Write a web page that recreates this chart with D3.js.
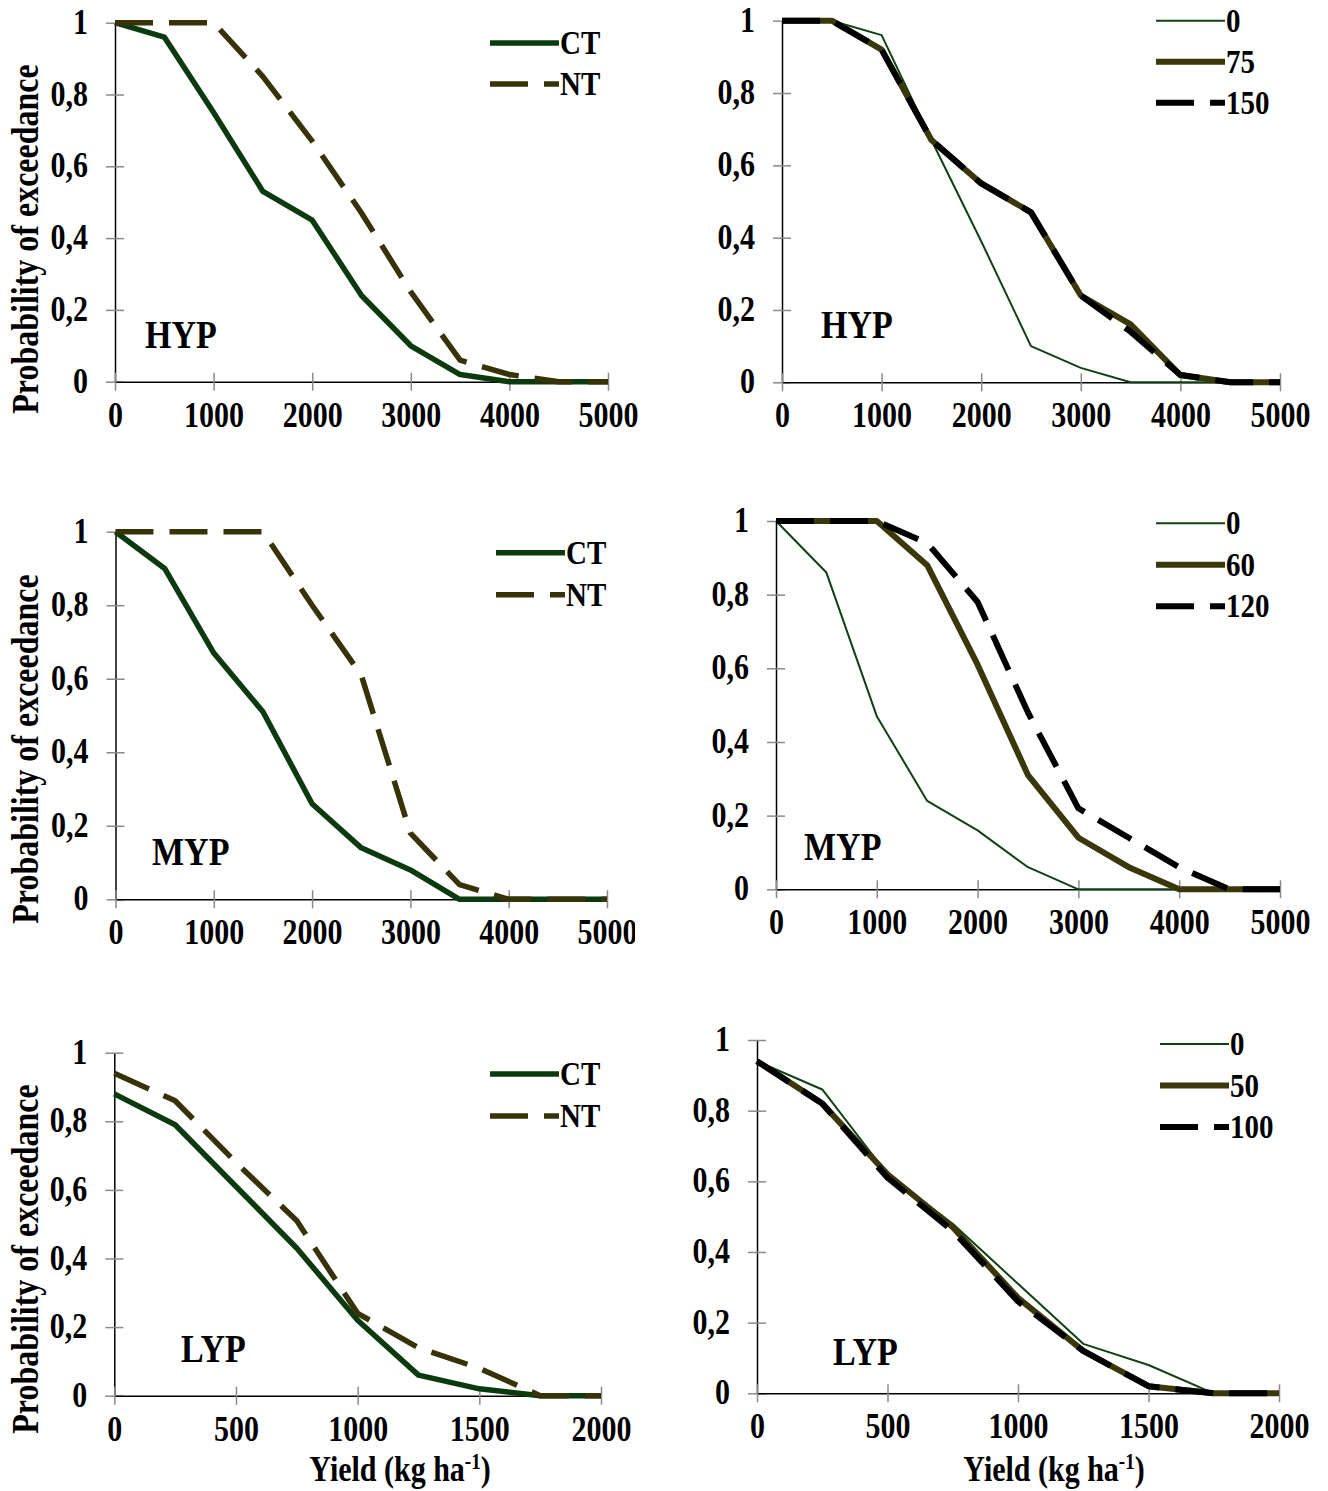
<!DOCTYPE html>
<html>
<head>
<meta charset="utf-8">
<script src="https://cdn.jsdelivr.net/npm/d3@7"></script>
<style>
  body { margin: 0; background: #fff; }
  svg { display: block; }
  text { font-family: "Liberation Serif", "Times New Roman", serif; font-weight: bold; fill: #000; }
</style>
</head>
<body>
<svg id="chart" width="1328" height="1491"></svg>
<script>
// yield levels (kg/ha) where the exceedance probability was read
const yieldsHigh = [0, 500, 1000, 1500, 2000, 2500, 3000, 3500, 4000, 4500, 5000];
const yieldsLow = [0, 250, 500, 750, 1000, 1250, 1500, 1750, 2000];
const ticksHigh = [0, 1000, 2000, 3000, 4000, 5000];
const ticksLow = [0, 500, 1000, 1500, 2000];
const probTicks = [0, 0.2, 0.4, 0.6, 0.8, 1];

// HYP
const hypCT = [1, 0.96, 0.75, 0.53, 0.45, 0.24, 0.10, 0.02, 0, 0, 0];
const hypNT = [1, 1, 1, 0.85, 0.67, 0.47, 0.25, 0.06, 0.02, 0, 0];
const hypN0 = [1, 1, 0.96, 0.67, 0.39, 0.10, 0.04, 0, 0, 0, 0];
const hypN75 = [1, 1, 0.92, 0.67, 0.55, 0.47, 0.24, 0.16, 0.02, 0, 0];
const hypN150 = [1, 1, 0.92, 0.67, 0.55, 0.47, 0.24, 0.14, 0.02, 0, 0];

// MYP
const mypCT = [1, 0.90, 0.67, 0.51, 0.26, 0.14, 0.08, 0, 0, 0, 0];
const mypNT = [1, 1, 1, 1, 0.80, 0.61, 0.18, 0.04, 0, 0, 0];
const mypN0 = [1, 0.86, 0.47, 0.24, 0.16, 0.06, 0, 0, 0, 0, 0];
const mypN60 = [1, 1, 1, 0.88, 0.61, 0.31, 0.14, 0.06, 0, 0, 0];
const mypN120 = [1, 1, 1, 0.94, 0.78, 0.48, 0.22, 0.14, 0.06, 0, 0];

// LYP
const lypCT = [0.88, 0.79, 0.61, 0.43, 0.22, 0.06, 0.02, 0, 0];
const lypNT = [0.94, 0.86, 0.68, 0.51, 0.24, 0.14, 0.08, 0, 0];
const lypN0 = [0.94, 0.86, 0.62, 0.48, 0.31, 0.14, 0.08, 0, 0];
const lypN50 = [0.94, 0.82, 0.62, 0.47, 0.27, 0.12, 0.02, 0, 0];
const lypN100 = [0.94, 0.82, 0.61, 0.46, 0.26, 0.12, 0.02, 0, 0];

const styles = {
  ct:    { color: "#0b3a0e", width: 5.5, dash: null },
  nt:    { color: "#383208", width: 5.5, dash: "38,16" },
  n0:    { color: "#0f4212", width: 2, dash: null },
  nMid:  { color: "#3a370b", width: 6, dash: null },
  nHigh: { color: "#000000", width: 6, dash: "38,16" }
};

const panels = [
  { left: 115, right: 608, top: 22.7, bottom: 381.7, xs: yieldsHigh, xt: ticksHigh, xmax: 5000,
    name: "HYP", nameX: 145, nameY: 348, legX: 490, legY: 43, legStep: 41, yTitle: 239,
    series: [["CT", hypCT, "ct"], ["NT", hypNT, "nt"]] },
  { left: 782, right: 1280, top: 20.7, bottom: 382.3, xs: yieldsHigh, xt: ticksHigh, xmax: 5000,
    name: "HYP", nameX: 821, nameY: 338, legX: 1156, legY: 20.7, legStep: 41,
    series: [["0", hypN0, "n0"], ["75", hypN75, "nMid"], ["150", hypN150, "nHigh"]] },
  { left: 115.5, right: 607, top: 531.7, bottom: 899.3, xs: yieldsHigh, xt: ticksHigh, xmax: 5000,
    name: "MYP", nameX: 152, nameY: 865, legX: 496, legY: 552.7, legStep: 42, yTitle: 749, clipX: 635,
    series: [["CT", mypCT, "ct"], ["NT", mypNT, "nt"]] },
  { left: 776, right: 1280, top: 521, bottom: 889.3, xs: yieldsHigh, xt: ticksHigh, xmax: 5000,
    name: "MYP", nameX: 804, nameY: 860, legX: 1156, legY: 523.3, legStep: 41.5,
    series: [["0", mypN0, "n0"], ["60", mypN60, "nMid"], ["120", mypN120, "nHigh"]] },
  { left: 114.3, right: 601, top: 1052.7, bottom: 1395.7, xs: yieldsLow, xt: ticksLow, xmax: 2000,
    name: "LYP", nameX: 181, nameY: 1362, legX: 490, legY: 1074, legStep: 42, yTitle: 1259, xTitle: 400,
    series: [["CT", lypCT, "ct"], ["NT", lypNT, "nt"]] },
  { left: 757, right: 1279, top: 1040, bottom: 1393.3, xs: yieldsLow, xt: ticksLow, xmax: 2000,
    name: "LYP", nameX: 833, nameY: 1365, legX: 1160, legY: 1044, legStep: 41.5, xTitle: 1054,
    series: [["0", lypN0, "n0"], ["50", lypN50, "nMid"], ["100", lypN100, "nHigh"]] }
];

const svg = d3.select("#chart");
const fmt = d => String(d).replace(".", ",");
const tall = 1.17; // glyphs in the source look taller than their widths

panels.forEach((p, pi) => {
  const x = d3.scaleLinear().domain([0, p.xmax]).range([p.left, p.right]);
  const y = d3.scaleLinear().domain([0, 1]).range([p.bottom, p.top]);
  const g = svg.append("g");

  // y axis with crossing grey ticks
  const ya = g.append("g")
    .attr("transform", "translate(" + p.left + ",0)")
    .call(d3.axisLeft(y).tickValues(probTicks).tickFormat(fmt).tickSize(9).tickSizeOuter(0).tickPadding(18));
  ya.select(".domain").attr("stroke", "#000").attr("stroke-width", 1.5);
  ya.selectAll(".tick line").attr("x1", 9).attr("stroke", "#8a8a8a").attr("stroke-width", 1.5);
  ya.selectAll(".tick text").attr("font-size", 30).attr("font-family", null)
    .attr("dy", "0.3em").attr("transform", "scale(1," + tall + ")");

  // x axis
  const xa = g.append("g")
    .attr("transform", "translate(0," + p.bottom + ")")
    .call(d3.axisBottom(x).tickValues(p.xt).tickFormat(d3.format("d")).tickSize(9).tickSizeOuter(0));
  xa.select(".domain").attr("stroke", "#000").attr("stroke-width", 1.5);
  xa.selectAll(".tick line").attr("y1", -9).attr("stroke", "#8a8a8a").attr("stroke-width", 1.5);
  xa.selectAll(".tick text").attr("font-size", 30).attr("font-family", null)
    .attr("y", 45 / tall).attr("dy", 0).attr("transform", "scale(1," + tall + ")");

  if (p.clipX) {
    // the source picture is cut off through the last tick label of this panel
    const id = "clip" + pi;
    svg.append("clipPath").attr("id", id).append("rect")
      .attr("x", 0).attr("y", -2000).attr("width", p.clipX).attr("height", 4000);
    xa.attr("clip-path", "url(#" + id + ")");
  }

  // lines
  const line = d3.line().x((d, i) => x(p.xs[i])).y(d => y(d));
  p.series.forEach(([key, values, st]) => {
    const s = styles[st];
    g.append("path")
      .datum(values)
      .attr("d", line)
      .attr("fill", "none")
      .attr("stroke", s.color)
      .attr("stroke-width", s.width)
      .attr("stroke-linejoin", "round")
      .attr("stroke-dasharray", s.dash);
  });

  // legend
  p.series.forEach(([key, values, st], i) => {
    const s = styles[st];
    const ly = p.legY + i * p.legStep;
    g.append("line")
      .attr("x1", p.legX).attr("x2", p.legX + 69)
      .attr("y1", ly).attr("y2", ly)
      .attr("stroke", s.color)
      .attr("stroke-width", s.width)
      .attr("stroke-dasharray", s.dash);
    g.append("text")
      .attr("transform", "translate(" + (p.legX + 70) + "," + (ly + 11) + ") scale(1," + tall + ")")
      .attr("font-size", 29)
      .text(key);
  });

  // panel name
  g.append("text")
    .attr("transform", "translate(" + p.nameX + "," + p.nameY + ") scale(1," + tall + ")")
    .attr("font-size", 34)
    .text(p.name);

  if (p.yTitle) {
    g.append("text")
      .attr("transform", "translate(38," + p.yTitle + ") rotate(-90) scale(1," + tall + ")")
      .attr("text-anchor", "middle")
      .attr("font-size", 32)
      .text("Probability of exceedance");
  }
  if (p.xTitle) {
    const t = g.append("text")
      .attr("transform", "translate(" + p.xTitle + ",1481) scale(1," + tall + ")")
      .attr("text-anchor", "middle")
      .attr("font-size", 30);
    t.append("tspan").text("Yield (kg ha");
    t.append("tspan").attr("font-size", 19).attr("dy", -10).text("-1");
    t.append("tspan").attr("dy", 10).text(")");
  }
});
</script>
</body>
</html>
